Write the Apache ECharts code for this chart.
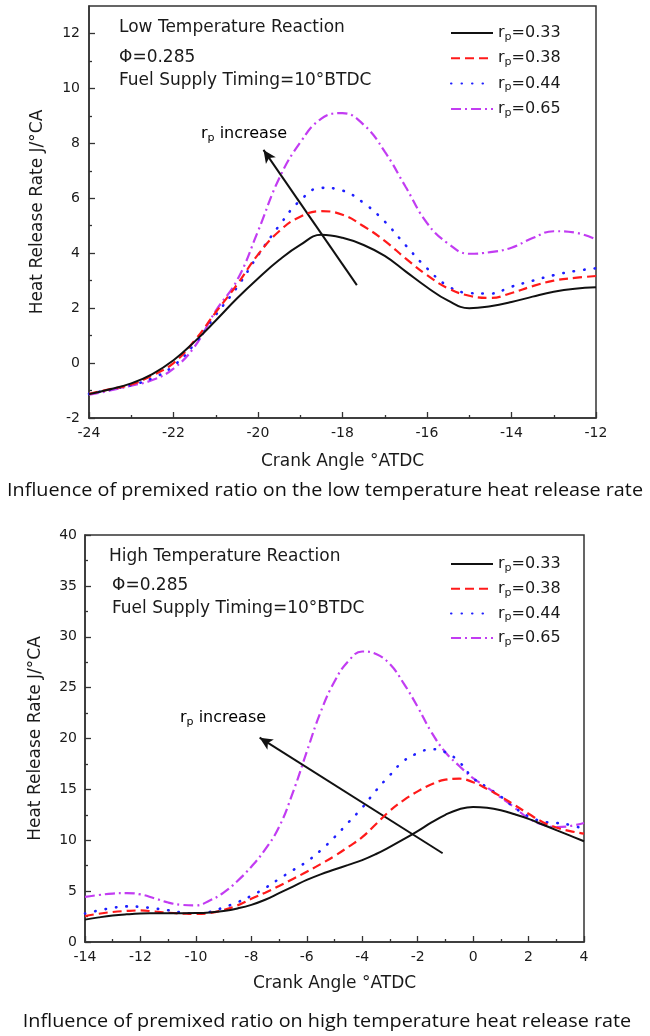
<!DOCTYPE html>
<html><head><meta charset="utf-8">
<script src="https://cdn.jsdelivr.net/npm/echarts@6/dist/echarts.min.js"></script>
<style>html,body{margin:0;padding:0;background:#fff}#c{width:650px;height:1036px}</style>
</head><body><div id="c"></div>
<script>
// ---------- data ----------
const ratios = ['0.33', '0.38', '0.44', '0.65'];

// Low temperature reaction (top panel)
const lowX = [-24,-23.5,-23,-22.5,-22,-21.5,-21,-20.5,-20,-19.5,-19,-18.5,-18,-17.5,-17,-16.5,-16,-15.5,-15,-14.5,-14,-13.5,-13,-12.5,-12];
const low33 = [-1.13,-0.95,-0.74,-0.4,0.1,0.78,1.55,2.35,3.08,3.75,4.3,4.67,4.56,4.3,3.9,3.33,2.76,2.27,2.0,2.07,2.22,2.42,2.6,2.71,2.76];
const low38 = [-1.12,-0.95,-0.78,-0.45,0.0,0.82,1.85,2.85,3.95,4.8,5.33,5.53,5.4,4.98,4.45,3.8,3.2,2.72,2.45,2.37,2.55,2.8,3.0,3.1,3.17];
const low44 = [-1.12,-0.97,-0.8,-0.55,-0.1,0.7,1.75,2.75,3.92,5.0,5.92,6.38,6.28,5.83,5.15,4.28,3.45,2.8,2.55,2.53,2.78,3.0,3.2,3.35,3.45];
const low65 = [-1.15,-1.0,-0.82,-0.62,-0.2,0.6,1.9,3.0,4.8,6.72,8.03,8.9,9.1,8.68,7.7,6.4,5.1,4.35,3.98,4.04,4.2,4.55,4.8,4.75,4.5];
const lowArrow = [[-17.66, 2.84], [-19.87, 7.76]];
const lowYTicks = [-2, 0, 2, 4, 6, 8, 10, 12];
const lowYMinor = [-1, 1, 3, 5, 7, 9, 11];

// High temperature reaction (bottom panel)
const highX = [-14,-13.5,-13,-12.5,-12,-11.5,-11,-10.5,-10,-9.5,-9,-8.5,-8,-7.5,-7,-6.5,-6,-5.5,-5,-4.5,-4,-3.5,-3,-2.5,-2,-1.5,-1,-0.5,0,0.5,1,1.5,2,2.5,3,3.5,4];
const high33 = [2.2,2.42,2.6,2.72,2.8,2.82,2.83,2.83,2.84,2.9,3.05,3.3,3.65,4.15,4.8,5.45,6.1,6.65,7.12,7.58,8.05,8.65,9.35,10.1,10.9,11.75,12.5,13.05,13.28,13.2,12.95,12.55,12.1,11.55,11.0,10.45,9.9];
const high38 = [2.55,2.78,2.95,3.05,3.1,3.0,2.88,2.8,2.75,2.85,3.15,3.6,4.25,4.85,5.5,6.2,6.9,7.65,8.45,9.35,10.3,11.6,12.9,13.95,14.8,15.5,15.95,16.05,15.7,15.05,14.3,13.45,12.6,11.8,11.25,10.9,10.65];
const high44 = [2.8,3.1,3.35,3.5,3.45,3.3,3.12,2.9,2.8,2.95,3.4,3.9,4.55,5.3,6.2,7.05,7.9,9.0,10.3,11.75,13.2,14.9,16.4,17.8,18.55,18.95,18.65,17.7,16.1,15.2,14.3,13.2,12.35,11.85,11.7,11.5,11.1];
const high65 = [4.43,4.62,4.76,4.8,4.68,4.3,3.88,3.65,3.6,4.08,4.85,6.0,7.4,9.1,11.3,14.7,18.7,22.6,25.6,27.6,28.55,28.3,27.3,25.4,23.1,20.6,18.65,17.3,16.1,15.2,14.2,13.2,12.15,11.55,11.3,11.4,11.7];
const highArrow = [[-1.1, 8.72], [-7.7, 20.08]];

// ---------- styling ----------
const FONT = 'DejaVu Sans';
const TXT = '#1a1a1a';
const styles = [
  {color: '#111111', width: 2, type: 'solid', cap: 'butt'},
  {color: '#ff1a1a', width: 2.2, type: [9, 5], cap: 'butt'},
  {color: '#1f1fff', width: 2.6, type: [0.5, 10], cap: 'round'},
  {color: '#c23cf2', width: 2.2, type: [10, 4, 2, 4], cap: 'butt'}
];
const zip = (xs, ys) => xs.map((x, i) => [x, ys[i]]);
const lowData = [low33, low38, low44, low65];
const highData = [high33, high38, high44, high65];

function arrowLine(pts) {
  return {
    silent: true, symbol: ['none', 'arrow'], symbolSize: [9, 13],
    label: {show: false}, emphasis: {disabled: true},
    lineStyle: {color: '#111', type: 'solid', width: 2},
    data: [[{coord: pts[0]}, {coord: pts[1]}]]
  };
}

const series = [];
ratios.forEach((r, i) => {
  series.push({
    name: r, type: 'line', xAxisIndex: 0, yAxisIndex: 0, data: zip(lowX, lowData[i]),
    smooth: 0.45, symbol: 'none', z: 3 + (3 - i),
    lineStyle: styles[i], itemStyle: {color: styles[i].color},
    markLine: i === 0 ? arrowLine(lowArrow) : undefined
  });
});
ratios.forEach((r, i) => {
  series.push({
    name: r, type: 'line', xAxisIndex: 1, yAxisIndex: 2, data: zip(highX, highData[i]),
    smooth: 0.45, symbol: 'none', z: 3 + (3 - i),
    lineStyle: styles[i], itemStyle: {color: styles[i].color},
    markLine: i === 0 ? arrowLine(highArrow) : undefined
  });
});

const subRich = {
  r: {fontFamily: FONT, fontSize: 16, color: TXT, lineHeight: 18},
  s: {fontFamily: FONT, fontSize: 11, color: TXT, lineHeight: 11, padding: [8, 0, 0, 0]}
};
const legendBase = {
  orient: 'vertical', left: 445, itemWidth: 42, itemHeight: 14, selectedMode: false,
  data: ratios, formatter: n => '{r|r}{s|p}{r|=' + n + '}',
  itemStyle: {opacity: 0, borderWidth: 0},
  textStyle: {fontFamily: FONT, fontSize: 16, color: TXT, rich: subRich}
};

const axisCommon = {
  axisLine: {show: true, onZero: false, lineStyle: {color: '#333', width: 1.5}},
  splitLine: {show: false},
  axisLabel: {fontFamily: FONT, fontSize: 14, color: TXT, margin: 8},
  axisTick: {inside: true, length: 6, lineStyle: {color: '#333', width: 1.3}},
  minorTick: {show: true, splitNumber: 2, length: 3, lineStyle: {color: '#333', width: 1.3}},
  nameTextStyle: {fontFamily: FONT, fontSize: 17, color: TXT}
};

const option = {
  animation: false,
  backgroundColor: '#fff',
  grid: [
    {left: 89, top: 6, width: 507, height: 412, show: true, borderColor: '#333', borderWidth: 1.5, backgroundColor: 'transparent'},
    {left: 85, top: 535, width: 499, height: 407, show: true, borderColor: '#333', borderWidth: 1.5, backgroundColor: 'transparent'}
  ],
  xAxis: [
    Object.assign({}, axisCommon, {gridIndex: 0, type: 'value', min: -24, max: -12, interval: 2,
      name: 'Crank Angle °ATDC', nameLocation: 'middle', nameGap: 35}),
    Object.assign({}, axisCommon, {gridIndex: 1, type: 'value', min: -14, max: 4, interval: 2,
      name: 'Crank Angle °ATDC', nameLocation: 'middle', nameGap: 33})
  ],
  yAxis: [
    Object.assign({}, axisCommon, {gridIndex: 0, type: 'value', min: -2, max: 13, interval: 1,
      axisLabel: Object.assign({}, axisCommon.axisLabel, {margin: 9, customValues: lowYTicks}),
      axisTick: Object.assign({}, axisCommon.axisTick, {customValues: lowYTicks}),
      minorTick: {show: false},
      name: 'Heat Release Rate J/°CA', nameLocation: 'middle', nameGap: 43}),
    {gridIndex: 0, type: 'value', min: -2, max: 13, interval: 1, position: 'left',
      axisLine: {show: false}, axisLabel: {show: false}, splitLine: {show: false},
      axisTick: {show: true, inside: true, length: 3, customValues: lowYMinor, lineStyle: {color: '#333', width: 1.3}}},
    Object.assign({}, axisCommon, {gridIndex: 1, type: 'value', min: 0, max: 40, interval: 5,
      name: 'Heat Release Rate J/°CA', nameLocation: 'middle', nameGap: 41})
  ],
  legend: [
    Object.assign({}, legendBase, {top: 18.5, itemGap: 6.3}),
    Object.assign({}, legendBase, {top: 549.5, itemGap: 5.7})
  ],
  graphic: [
    {type: 'text', x: 119, y: 28, style: {text: 'Low Temperature Reaction', fontFamily: FONT, fontSize: 17, fill: TXT, align: 'left', verticalAlign: 'middle'}},
    {type: 'text', x: 119, y: 58, style: {text: 'Φ=0.285', fontFamily: FONT, fontSize: 17, fill: TXT, align: 'left', verticalAlign: 'middle'}},
    {type: 'text', x: 119, y: 81, style: {text: 'Fuel Supply Timing=10°BTDC', fontFamily: FONT, fontSize: 17, fill: TXT, align: 'left', verticalAlign: 'middle'}},
    {type: 'text', x: 201, y: 134, style: {text: '{r|r}{s|p}{r| increase}', rich: subRich, align: 'left', verticalAlign: 'middle'}},
    {type: 'text', x: 109, y: 557, style: {text: 'High Temperature Reaction', fontFamily: FONT, fontSize: 17, fill: TXT, align: 'left', verticalAlign: 'middle'}},
    {type: 'text', x: 112, y: 586, style: {text: 'Φ=0.285', fontFamily: FONT, fontSize: 17, fill: TXT, align: 'left', verticalAlign: 'middle'}},
    {type: 'text', x: 112, y: 609, style: {text: 'Fuel Supply Timing=10°BTDC', fontFamily: FONT, fontSize: 17, fill: TXT, align: 'left', verticalAlign: 'middle'}},
    {type: 'text', x: 180, y: 718, style: {text: '{r|r}{s|p}{r| increase}', rich: subRich, align: 'left', verticalAlign: 'middle'}},
    {type: 'text', x: 325, y: 491, scaleX: 1.1, style: {text: 'Influence of premixed ratio on the low temperature heat release rate', fontFamily: 'Open Sans', fontSize: 18, fill: '#111', align: 'center', verticalAlign: 'middle'}},
    {type: 'text', x: 327, y: 1022, scaleX: 1.1, style: {text: 'Influence of premixed ratio on high temperature heat release rate', fontFamily: 'Open Sans', fontSize: 18, fill: '#111', align: 'center', verticalAlign: 'middle'}}
  ],
  series: series
};

const chart = echarts.init(document.getElementById('c'), null, {renderer: 'canvas'});
chart.setOption(option);
</script>
</body></html>
